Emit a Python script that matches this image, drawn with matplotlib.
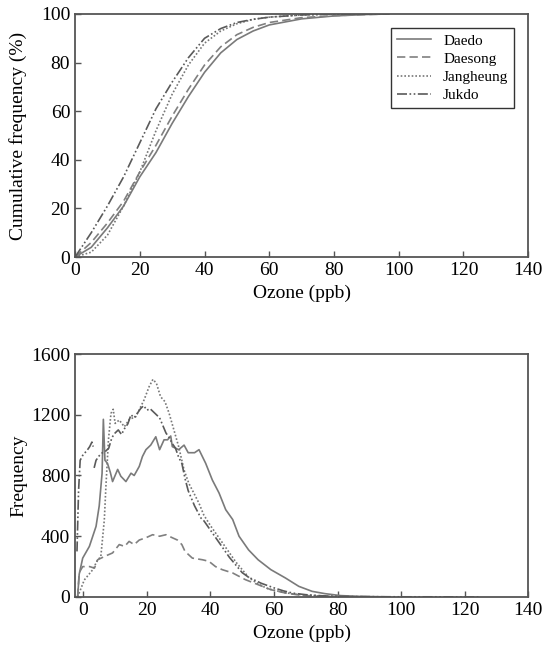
import matplotlib
matplotlib.use("Agg")
import matplotlib.pyplot as plt
import numpy as np

plt.rcParams['font.family'] = ['Liberation Serif', 'DejaVu Serif']

# ---- cumulative frequency (%) vs ozone (ppb) ----
cum_x = [0, 5, 10, 15, 20, 25, 30, 35, 40, 45, 50, 55, 60, 70, 80, 90, 97]
cum_daedo = [0, 4, 12, 21, 33, 43, 55, 66, 76, 84, 89.5, 93, 95.5, 98, 99.2, 99.8, 100]
cum_daesong = [0, 6, 14, 23, 35, 46, 58, 69, 79, 86.5, 91.5, 94.5, 96.5, 98.5, 99.3, 99.8, 100]
cum_jangheung = [0, 2, 9, 21, 35, 52, 67, 79, 88, 93, 96, 97.8, 98.7, 99.6, 100, 100, 100]
cum_jukdo = [0, 10, 21, 33, 47, 61, 72, 82, 90, 94, 96.5, 97.8, 98.7, 99.6, 100, 100, 100]

# ---- frequency histograms ----
daedo_x = [-1.8, -1.3, -0.2, 1.9, 4, 5, 5.9, 6.3, 6.8, 7.6, 8.5, 9.2, 10.8, 11.8, 13.4, 15, 16,
           17.6, 18.6, 19.7, 21.2, 22.8, 24, 25.4, 26.5, 27.5, 28, 30, 31.7, 33, 35, 36.4, 38.5,
           40.6, 42.7, 44.8, 47, 49, 52, 55, 59, 63.6, 67.8, 72, 76, 81, 86.6, 95]
daedo_y = [0, 150, 256, 333, 465, 600, 815, 1170, 900, 880, 820, 760, 840, 795, 760, 815, 800,
           860, 925, 970, 1000, 1055, 970, 1035, 1035, 1060, 990, 970, 1000, 950, 950, 970, 880,
           770, 685, 575, 510, 400, 310, 245, 180, 125, 70, 37, 22, 9, 4, 1]

daesong_x = [-1.8, -1.3, -0.2, 2, 3.5, 4.5, 7, 9.2, 11.3, 13, 14.4, 16, 17.6, 19.7, 21.8, 24, 26,
             28, 29.6, 31, 32, 34.3, 37.5, 39.5, 41.6, 43.7, 47, 51, 55, 59, 63.6, 67.8, 74, 80]
daesong_y = [0, 160, 200, 200, 190, 245, 270, 290, 345, 333, 366, 345, 375, 390, 410, 400, 410,
             390, 375, 345, 300, 256, 245, 235, 200, 180, 158, 114, 81, 48, 26, 13, 4, 1]

jangheung_x = [-1.8, 0.3, 2.9, 4.5, 5.5, 6.6, 7.1, 7.9, 8.7, 9.4, 10, 11.3, 12.9, 14.5, 16.5,
               19.1, 20.7, 21.9, 23, 24.3, 25.7, 27, 28.5, 30, 31.7, 33.2, 34.8, 36.4, 37.9,
               40, 42, 44, 46, 48, 50, 52, 54, 56, 58, 60, 63, 66, 70, 75, 80, 90]
jangheung_y = [0, 112, 178, 244, 265, 507, 726, 1034, 1209, 1236, 1143, 1165, 1121, 1170, 1187,
               1297, 1385, 1433, 1407, 1319, 1286, 1209, 1100, 990, 836, 748, 683, 617, 540,
               470, 410, 350, 290, 230, 180, 130, 100, 75, 55, 45, 30, 20, 12, 6, 3, 1]

jukdo_x = [-2, -1.5, -1, 0, 1, 2, 2.7, 3.1, np.nan, 3.4, 4, 5, 6, 7, 8, 9, 10, 11, 12, 13, 14,
           15, 16, 17, 18, 19, 20, 21, 22, 23, 24, 25, 26, 27, 28, 29, 30, 31, 32, 33, 34, 35,
           36, 37, 38, 40, 42, 44, 46, 48, 50, 52, 54, 56, 58, 60, 63, 66, 70, 75, 80, 85, 90,
           100, 110, 125]
jukdo_y = [300, 700, 900, 940, 960, 990, 1020, 990, np.nan, 850, 900, 930, 950, 960, 980, 1050,
           1080, 1100, 1070, 1110, 1140, 1200, 1180, 1210, 1240, 1260, 1230, 1240, 1220, 1200,
           1180, 1130, 1080, 1050, 1010, 980, 920, 880, 780, 700, 650, 600, 560, 520, 500, 440,
           380, 320, 260, 210, 160, 130, 110, 90, 75, 60, 40, 25, 15, 8, 4, 3, 2, 1, 1, 0]

names = ['Daedo', 'Daesong', 'Jangheung', 'Jukdo']
styles = ['-', (0, (5, 2.5)), (0, (1, 1.2)), (0, (6, 1.5, 1, 1.5, 1, 1.5))]
colors = ['#7a7a7a', '#808080', '#777777', '#5a5a5a']

fig = plt.figure(figsize=(5.44, 6.54), dpi=100)
ax1 = fig.add_axes([0.138, 0.607, 0.833, 0.3716])
ax2 = fig.add_axes([0.138, 0.0872, 0.833, 0.3715])

cums = [cum_daedo, cum_daesong, cum_jangheung, cum_jukdo]
for name, c, ls, col in zip(names, cums, styles, colors):
    ax1.plot(cum_x, c, linestyle=ls, color=col, lw=1.2, label=name)

ax1.set_xlim(0, 140)
ax1.set_ylim(0, 100)
ax1.set_xticks(range(0, 141, 20))
ax1.set_yticks(range(0, 101, 20))
ax1.set_xlabel('Ozone (ppb)', fontsize=14)
ax1.set_ylabel('Cumulative frequency (%)', fontsize=14)
leg = ax1.legend(loc='upper right', fontsize=11, frameon=True, fancybox=False,
                 edgecolor='black', borderaxespad=0.9, handlelength=2.2,
                 labelspacing=0.3)
leg.get_frame().set_linewidth(1.0)

xs = [daedo_x, daesong_x, jangheung_x, jukdo_x]
ys = [daedo_y, daesong_y, jangheung_y, jukdo_y]
for x, y, ls, col in zip(xs, ys, styles, colors):
    ax2.plot(x, y, linestyle=ls, color=col, lw=1.2)

ax2.set_xlim(-2.6, 140)
ax2.set_ylim(0, 1600)
ax2.set_xticks(range(0, 141, 20))
ax2.set_yticks(range(0, 1601, 400))
ax2.set_xlabel('Ozone (ppb)', fontsize=14)
ax2.set_ylabel('Frequency', fontsize=14)

for ax in (ax1, ax2):
    ax.tick_params(direction='in', length=4, width=1, labelsize=14, colors='#555555',
                   labelcolor='black')
    for s in ax.spines.values():
        s.set_color('#555555')
        s.set_linewidth(1.3)
    ax.yaxis.set_label_coords(-0.106, 0.5)

fig.savefig('out.png', dpi=100)
